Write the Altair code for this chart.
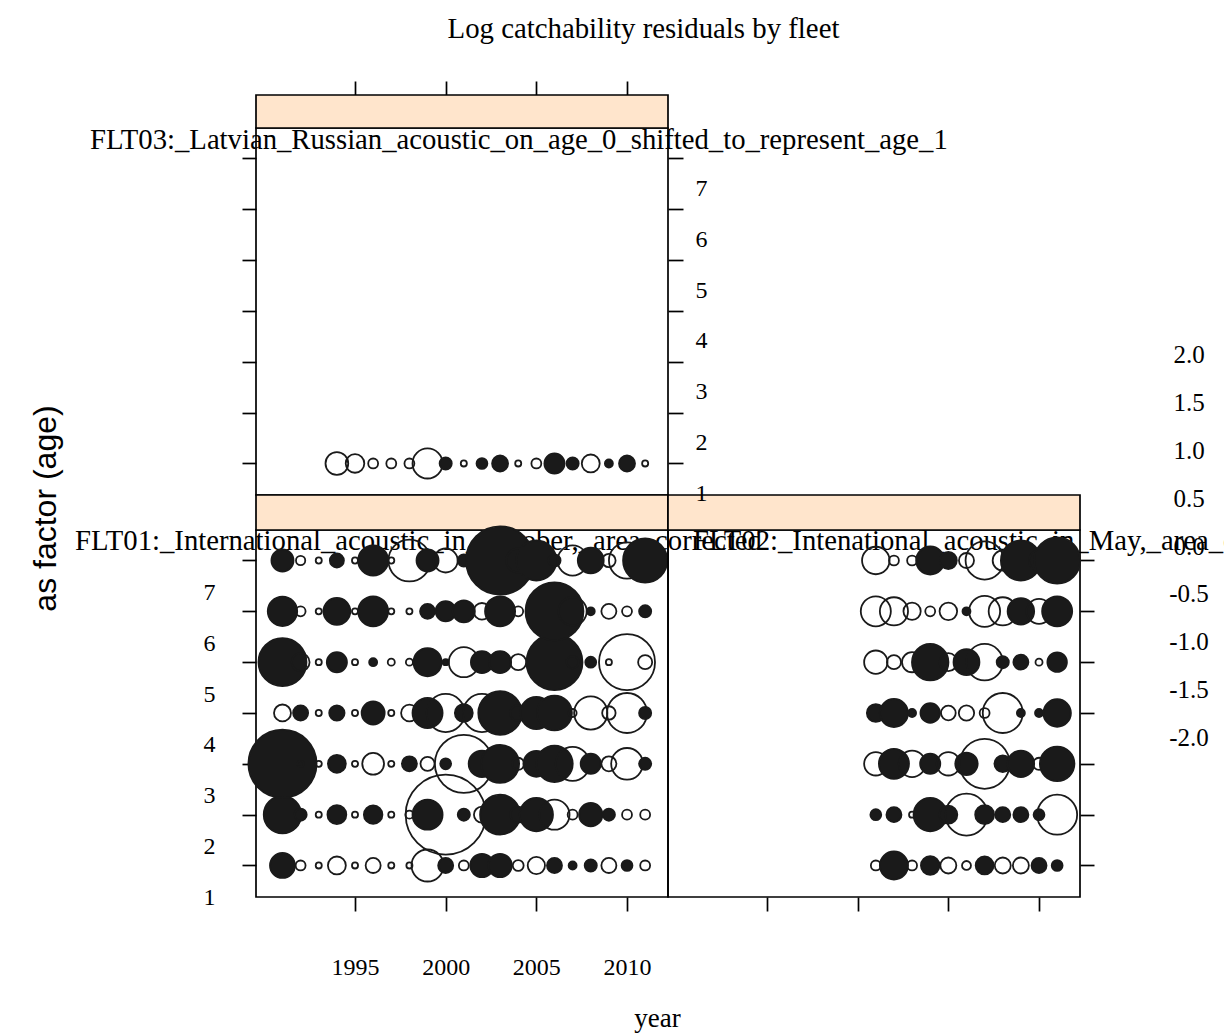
import altair as alt
import pandas as pd

# ---------------- data (residuals) ----------------
ages = [1, 2, 3, 4, 5, 6, 7]

flt01_years = list(range(1991, 2012))
flt01_age1 = [0.78, -0.31, -0.19, -0.56, -0.19, -0.47, -0.19, -0.19, -1.0, 0.47, -0.31, 0.73, 0.73, -0.34, -0.54, 0.47, 0.25, 0.38, -0.47, 0.34, -0.31]
flt01_age2 = [1.17, 0.38, -0.19, 0.59, -0.19, 0.58, -0.19, -0.25, 0.94, -2.5, 0.38, -0.5, 1.25, 0.5, 1.04, -0.94, -0.31, 0.73, 0.38, -0.31, -0.31]
flt01_age3 = [2.13, -0.19, -0.19, 0.56, -0.19, -0.68, -0.19, 0.47, -0.44, 0.34, -1.81, 0.83, 1.19, -0.38, 0.81, 1.14, -1.06, 0.63, -0.47, -0.99, 0.38]
flt01_age4 = [-0.53, 0.47, -0.19, 0.48, -0.19, 0.72, -0.19, -0.52, 0.94, -1.19, 0.56, -1.19, 1.36, 0.5, 1.0, 1.09, -0.25, -1.04, -0.42, -1.25, 0.38]
flt01_age5 = [1.5, -0.56, -0.19, 0.63, -0.19, 0.25, -0.22, -0.22, 0.88, 0.19, -0.94, 0.69, 0.69, -0.5, 0.5, 1.75, 0.38, 0.34, -0.19, -1.75, -0.44]
flt01_age6 = [0.92, -0.31, -0.19, 0.84, -0.19, 0.94, -0.19, -0.19, 0.47, 0.63, 0.69, -0.52, 0.94, -0.31, 0.63, 1.81, -0.88, 0.25, -0.47, -0.31, 0.38]
flt01_age7 = [0.69, -0.29, -0.19, 0.44, -0.19, 0.94, -0.19, -1.31, 0.69, -0.75, 0.38, 0.63, 2.13, 0.75, 1.25, 0.38, -0.94, 0.81, -0.42, -1.13, 1.38]

flt02_years = list(range(2001, 2012))
flt02_age1 = [-0.31, 0.88, -0.31, 0.58, -0.5, -0.28, 0.56, -0.5, -0.5, 0.47, 0.34]
flt02_age2 = [0.34, 0.47, -0.19, 1.04, 0.56, -1.31, 0.59, 0.47, 0.47, 0.34, -1.25]
flt02_age3 = [-0.73, 0.94, -0.83, 0.63, -0.73, 0.7, -1.56, 0.52, 0.83, -0.38, 1.08]
flt02_age4 = [0.56, 0.88, 0.25, 0.61, -0.46, -0.48, -0.31, -1.25, 0.25, 0.25, 0.86]
flt02_age5 = [-0.73, -0.44, -0.63, 1.14, -0.56, 0.81, -1.14, 0.38, 0.47, -0.22, 0.61]
flt02_age6 = [-0.94, -0.88, -0.54, -0.31, -0.55, 0.25, -0.97, -0.88, 0.83, -0.78, 0.94]
flt02_age7 = [-0.86, -0.31, -0.31, 0.88, 0.53, -0.47, -1.19, -0.63, 1.25, 0.63, 1.44]

flt03_years = list(range(1994, 2012))
flt03_age1 = [-0.71, -0.58, -0.31, -0.31, -0.31, -0.94, 0.38, -0.19, 0.34, 0.5, -0.19, -0.31, 0.63, 0.38, -0.56, 0.25, 0.5, -0.19]

strip_labels = {
    "FLT01": "FLT01:_International_acoustic_in_October,_area_corrected",
    "FLT02": "FLT02:_Intenational_acoustic_in_May,_area_corrected",
    "FLT03": "FLT03:_Latvian_Russian_acoustic_on_age_0_shifted_to_represent_age_1",
}
year_ticks = [1995, 2000, 2005, 2010]
key_values = [2.0, 1.5, 1.0, 0.5, 0.0, -0.5, -1.0, -1.5, -2.0]
key_labels = ["2.0", "1.5", "1.0", "0.5", "0.0", "-0.5", "-1.0", "-1.5", "-2.0"]

# ---------------- layout ----------------
SERIF = "Liberation Serif"
SANS = "Liberation Sans"
INK = "#1a1a1a"
STRIP = "#ffe5cc"
W, H = 1224, 1035
X_DOM = [1989.54, 2012.26]
Y_DOM = [0.38, 7.6]

panels = {
    "FLT03": dict(x=[256, 668], y=[495, 128], strip_top=95, label_px=(90, 140)),
    "FLT01": dict(x=[256, 668], y=[897, 530], strip_top=495, label_px=(75, 541)),
    "FLT02": dict(x=[668, 1080], y=[897, 530], strip_top=495, label_px=(693, 541)),
}


def xs(p):
    return alt.Scale(domain=X_DOM, range=panels[p]["x"], nice=False, zero=False)


def ys(p):
    return alt.Scale(domain=Y_DOM, range=panels[p]["y"], nice=False, zero=False)


def px_to_year(p, px):
    x0, x1 = panels[p]["x"]
    return X_DOM[0] + (px - x0) / (x1 - x0) * (X_DOM[1] - X_DOM[0])


def px_to_age(p, py):
    yb, yt = panels[p]["y"]
    return Y_DOM[0] + (yb - py) / (yb - yt) * (Y_DOM[1] - Y_DOM[0])


def axis(**kw):
    base = dict(domain=False, grid=False, ticks=True, tickColor="black", tickWidth=1.7,
                tickSize=14, labelFont=SERIF, labelFontSize=24, labelColor="black",
                labelOverlap=False, title=None)
    base.update(kw)
    return alt.Axis(**base)


SIZE_SCALE = alt.Scale(type="pow", exponent=2, domain=[0, 2.5], range=[0, 6400])

series = {
    "FLT01": (flt01_years, [flt01_age1, flt01_age2, flt01_age3, flt01_age4, flt01_age5, flt01_age6, flt01_age7]),
    "FLT02": (flt02_years, [flt02_age1, flt02_age2, flt02_age3, flt02_age4, flt02_age5, flt02_age6, flt02_age7]),
    "FLT03": (flt03_years, [flt03_age1]),
}

axes_cfg = {
    "FLT01": dict(
        x=axis(orient="bottom", offset=897 - H, values=year_ticks, format="d", labelPadding=44,
               title="year", titleX=657, titleY=121, titleAlign="center", titleBaseline="middle",
               titleFont=SERIF, titleFontSize=27, titleFontWeight="normal", titleColor="black"),
        y=axis(orient="left", offset=-256, values=ages, format="d", labelPadding=27, labelOffset=32,
               title="as factor (age)", titleX=-211, titleY=508, titleAngle=270, titleAlign="center",
               titleBaseline="middle", titleFont=SANS, titleFontSize=32, titleFontWeight="normal",
               titleColor="black"),
    ),
    "FLT02": dict(
        x=axis(orient="bottom", offset=897 - H, values=year_ticks, labels=False),
        y=axis(orient="right", offset=1080 - W, values=ages, labels=False),
    ),
    "FLT03": dict(
        x=axis(orient="top", offset=-95, values=year_ticks, labels=False,
               title="Log catchability residuals by fleet", titleX=643, titleY=28 - 95,
               titleAlign="center", titleBaseline="middle", titleFont=SERIF, titleFontSize=28.8,
               titleFontWeight="normal", titleColor="black"),
        y=axis(orient="left", offset=-256, values=ages, labels=False),
    ),
}

layers = []
for p in ["FLT03", "FLT01", "FLT02"]:
    boxes = pd.DataFrame([
        {"kind": "frame", "x0": X_DOM[0], "x1": X_DOM[1], "y0": Y_DOM[0], "y1": Y_DOM[1]},
        {"kind": "strip", "x0": X_DOM[0], "x1": X_DOM[1], "y0": Y_DOM[1],
         "y1": px_to_age(p, panels[p]["strip_top"])},
    ])
    layers.append(
        alt.Chart(boxes).mark_rect(stroke="black", strokeWidth=1.7).encode(
            x=alt.X("x0:Q", scale=xs(p), axis=axes_cfg[p]["x"]),
            x2="x1",
            y=alt.Y("y0:Q", scale=ys(p), axis=axes_cfg[p]["y"]),
            y2="y1",
            fill=alt.Fill("kind:N", scale=alt.Scale(domain=["frame", "strip"], range=["transparent", STRIP]),
                          legend=None),
        )
    )
    lx, ly = panels[p]["label_px"]
    lab = pd.DataFrame([{"x": px_to_year(p, lx), "y": px_to_age(p, ly), "label": strip_labels[p]}])
    if p == "FLT03":
        yaxis = axis(orient="right", offset=668 - W, values=ages, format="d", tickSize=15,
                     labelPadding=12, labelOffset=30, zindex=1)
    else:
        yaxis = None
    layers.append(
        alt.Chart(lab).mark_text(align="left", baseline="middle", font=SERIF, fontSize=28.7, color="black").encode(
            x=alt.X("x:Q", scale=xs(p), axis=None),
            y=alt.Y("y:Q", scale=ys(p), axis=yaxis),
            text="label:N",
        )
    )
    yrs, rows = series[p]
    recs = []
    for i, yr in enumerate(yrs):
        for a, row in zip(ages, rows):
            recs.append({"year": yr, "age": a, "res": row[i]})
    df = pd.DataFrame(recs)
    layers.append(
        alt.Chart(df).transform_calculate(mag="abs(datum.res)").mark_point(
            shape="circle", filled=True, stroke=INK, strokeWidth=1.8, opacity=1
        ).encode(
            x=alt.X("year:Q", scale=xs(p), axis=None),
            y=alt.Y("age:Q", scale=ys(p), axis=None),
            size=alt.Size("mag:Q", scale=SIZE_SCALE, legend=None),
            fill=alt.condition("datum.res > 0", alt.value(INK), alt.value("transparent")),
        )
    )

key_df = pd.DataFrame({"value": key_values, "label": key_labels})
layers.append(
    alt.Chart(key_df).mark_text(align="center", baseline="middle", font=SERIF, fontSize=25, color="black").encode(
        y=alt.Y("value:Q", scale=alt.Scale(domain=[-2, 2], range=[738, 355]), axis=None),
        x=alt.value(1189),
        text="label:N",
    )
)

chart = alt.layer(*layers).resolve_scale(
    x="independent", y="independent", fill="independent"
).resolve_axis(x="independent", y="independent").properties(
    width=W, height=H, autosize=alt.AutoSizeParams(type="none"), padding=0, background="white"
).configure_view(strokeWidth=0)

chart.save("out.html", embed_options={"renderer": "svg", "actions": False})
